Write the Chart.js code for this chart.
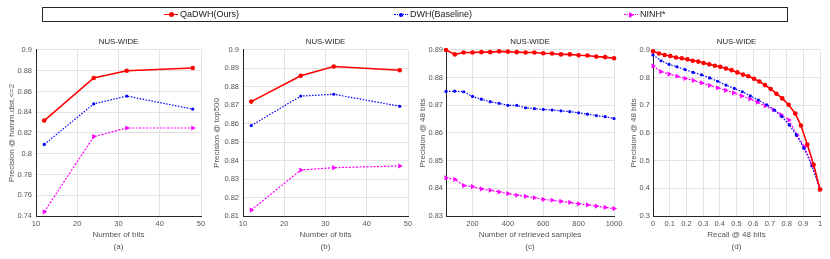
<!DOCTYPE html>
<html>
<head>
<meta charset="utf-8">
<script src="https://cdn.jsdelivr.net/npm/chart.js@4.4.1/dist/chart.umd.min.js"></script>
<style>
  body { margin: 0; background: #fff; font-family: "Liberation Sans", Arial, sans-serif; }
  #lienzo { position: relative; width: 830px; height: 259px; overflow: hidden; }
  #lienzo canvas { position: absolute; top: 0; }
  #leyenda { position: absolute; left: 42px; top: 7px; width: 746px; height: 15px; border: 1px solid #262626; box-sizing: border-box; }
  .item { position: absolute; top: 0; height: 13px; font-size: 9px; line-height: 13px; color: #1a1a1a; white-space: nowrap; }
  .linea { position: absolute; top: 6px; width: 14px; height: 0; }
  .marca { position: absolute; }
  .texto { position: absolute; left: 16px; top: 0; }
</style>
</head>
<body>
<div id="lienzo">
  <canvas id="graficoA" width="212" height="259" style="left:0px"></canvas>
  <canvas id="graficoB" width="212" height="259" style="left:205px"></canvas>
  <canvas id="graficoC" width="215" height="259" style="left:412px"></canvas>
  <canvas id="graficoD" width="212" height="259" style="left:618px"></canvas>
  <div id="leyenda">
    <div class="item" style="left:121px">
      <div class="linea" style="border-top:1.6px solid #ff0000"></div>
      <div class="marca" style="left:5px;top:4px;width:5px;height:5px;border-radius:50%;background:#ff0000"></div>
      <span class="texto">QaDWH(Ours)</span>
    </div>
    <div class="item" style="left:351px">
      <div class="linea" style="border-top:1.4px dotted #0000ff"></div>
      <div class="marca" style="left:5px;top:5px;width:3.5px;height:3.5px;border-radius:50%;background:#0000ff"></div>
      <span class="texto">DWH(Baseline)</span>
    </div>
    <div class="item" style="left:581px">
      <div class="linea" style="border-top:1.4px dotted #ff00ff"></div>
      <div class="marca" style="left:5px;top:3.5px;width:0;height:0;border-top:3px solid transparent;border-bottom:3px solid transparent;border-left:5px solid #ff00ff"></div>
      <span class="texto">NINH*</span>
    </div>
  </div>
</div>

<script>
/* DATOS */

const seriesNames = ["QaDWH(Ours)", "DWH(Baseline)", "NINH*"];
const panelLabels = ["(a)", "(b)", "(c)", "(d)"];

// (a) precision @ hamming dist <= 2
const bits = [12, 24, 32, 48];
const hammQaDWH = [0.832, 0.873, 0.880, 0.8826];
const hammDWH = [0.809, 0.848, 0.8556, 0.843];
const hammNINH = [0.744, 0.8165, 0.8248, 0.8248];

// (b) precision @ top500
const topQaDWH = [0.872, 0.886, 0.891, 0.889];
const topDWH = [0.859, 0.875, 0.876, 0.8695];
const topNINH = [0.8132, 0.8349, 0.8362, 0.8371];

// (c) precision vs number of retrieved samples
const retrieved = [50, 100, 150, 200, 250, 300, 350, 400, 450, 500, 550, 600, 650, 700, 750, 800, 850, 900, 950, 1000];
const retQaDWH = [0.8900, 0.8884, 0.8891, 0.8891, 0.8892, 0.8892, 0.8895, 0.8894, 0.8892, 0.8891, 0.8891, 0.8888, 0.8887, 0.8884, 0.8884, 0.8881, 0.8880, 0.8876, 0.8874, 0.8870];
const retDWH = [0.8750, 0.8751, 0.8749, 0.8732, 0.8722, 0.8713, 0.8707, 0.8700, 0.8700, 0.8691, 0.8688, 0.8685, 0.8683, 0.8680, 0.8677, 0.8673, 0.8668, 0.8663, 0.8659, 0.8652];
const retNINH = [0.8438, 0.8432, 0.8410, 0.8406, 0.8398, 0.8393, 0.8387, 0.8381, 0.8375, 0.8371, 0.8366, 0.8360, 0.8357, 0.8353, 0.8349, 0.8344, 0.8340, 0.8336, 0.8331, 0.8327];

// (d) precision-recall @ 48 bits
const recallQaDWH = [0, 0.036, 0.070, 0.104, 0.138, 0.172, 0.206, 0.238, 0.271, 0.303, 0.337, 0.371, 0.403, 0.437, 0.471, 0.505, 0.539, 0.571, 0.605, 0.637, 0.671, 0.705, 0.739, 0.774, 0.812, 0.852, 0.886, 0.924, 0.962, 1.0];
const precQaDWH = [0.895, 0.887, 0.882, 0.878, 0.873, 0.870, 0.866, 0.861, 0.858, 0.853, 0.848, 0.843, 0.839, 0.833, 0.827, 0.819, 0.811, 0.805, 0.796, 0.786, 0.773, 0.759, 0.742, 0.725, 0.702, 0.670, 0.627, 0.558, 0.485, 0.396];
const recallDWH = [0, 0.048, 0.096, 0.144, 0.192, 0.240, 0.291, 0.339, 0.387, 0.437, 0.487, 0.535, 0.583, 0.631, 0.681, 0.727, 0.772, 0.816, 0.858, 0.904, 0.952, 1.0];
const precDWH = [0.882, 0.861, 0.848, 0.839, 0.829, 0.819, 0.810, 0.799, 0.787, 0.773, 0.761, 0.749, 0.734, 0.719, 0.702, 0.683, 0.659, 0.629, 0.593, 0.545, 0.482, 0.398];
const recallNINH = [0, 0.046, 0.096, 0.144, 0.192, 0.241, 0.291, 0.339, 0.387, 0.435, 0.483, 0.531, 0.580, 0.625, 0.672, 0.722, 0.766, 0.814, 0.862, 0.905, 0.952, 1.0];
const precNINH = [0.842, 0.822, 0.813, 0.805, 0.797, 0.790, 0.781, 0.772, 0.763, 0.754, 0.745, 0.734, 0.723, 0.711, 0.698, 0.683, 0.666, 0.647, 0.593, 0.550, 0.485, 0.397];

// ticks
const bitsTicks = [10, 20, 30, 40, 50];
const hammTicks = [0.74, 0.76, 0.78, 0.8, 0.82, 0.84, 0.86, 0.88, 0.9];
const topTicks = [0.81, 0.82, 0.83, 0.84, 0.85, 0.86, 0.87, 0.88, 0.89, 0.9];
const retrievedTicks = [200, 400, 600, 800, 1000];
const retPrecTicks = [0.83, 0.84, 0.85, 0.86, 0.87, 0.88, 0.89];
const recallTicks = [0, 0.1, 0.2, 0.3, 0.4, 0.5, 0.6, 0.7, 0.8, 0.9, 1];
const prTicks = [0.3, 0.4, 0.5, 0.6, 0.7, 0.8, 0.9];

/* ESTILOS */
const fuente = '"Liberation Sans", Arial, sans-serif';

function toPoints(xs, ys) {
  return xs.map((x, i) => ({ x: x, y: ys[i] }));
}

function formatTick(v) {
  return parseFloat(Number(v).toFixed(3)).toString();
}

// one dataset per series, styled like the matlab markers
function makeDatasets(xsList, ysList) {
  return [
    {
      label: seriesNames[0], data: toPoints(xsList[0], ysList[0]),
      borderColor: "#ff0000", backgroundColor: "#ff0000", borderWidth: 1.6,
      pointStyle: "circle", pointRadius: 2.3, pointBorderWidth: 0, clip: false
    },
    {
      label: seriesNames[1], data: toPoints(xsList[1], ysList[1]),
      borderColor: "#0000ff", backgroundColor: "#0000ff", borderWidth: 1.2, borderDash: [1.5, 1.5],
      pointStyle: "circle", pointRadius: 1.6, pointBorderWidth: 0, clip: false
    },
    {
      label: seriesNames[2], data: toPoints(xsList[2], ysList[2]),
      borderColor: "#ff00ff", backgroundColor: "#ff00ff", borderWidth: 1.2, borderDash: [2, 1.5],
      pointStyle: "triangle", pointRotation: 90, pointRadius: 3, pointBorderWidth: 0, clip: false
    }
  ];
}

function makeChart(id, p) {
  const ctx = document.getElementById(id);
  return new Chart(ctx, {
    type: "scatter",
    data: { datasets: makeDatasets(p.xs, p.ys) },
    options: {
      responsive: false,
      animation: false,
      devicePixelRatio: 1,
      showLine: true,
      layout: { padding: { left: 0, right: p.padRight, top: 0, bottom: 6 } },
      plugins: {
        legend: { display: false },
        tooltip: { enabled: false },
        title: {
          display: true, text: "NUS-WIDE", fullSize: false, color: "#222",
          font: { family: fuente, size: 7.8, weight: "normal" },
          padding: { top: 37, bottom: 3.6 }
        }
      },
      scales: {
        x: {
          type: "linear", min: p.xMin, max: p.xMax,
          afterBuildTicks: s => { s.ticks = p.xTicks.map(v => ({ value: v })); },
          afterFit: s => { s.height = 37; s.paddingLeft = 0; s.paddingRight = 0; },
          ticks: { color: "#555", font: { family: fuente, size: 7.5 }, padding: 3.5, maxRotation: 0, autoSkip: false, callback: formatTick },
          grid: { color: "#e3e3e3", drawTicks: false },
          border: { color: "#262626", width: 1 },
          title: { display: true, text: [p.xTitle, p.label], color: "#555", font: { family: fuente, size: 8, lineHeight: 1.5 }, padding: 0 }
        },
        y: {
          type: "linear", min: p.yMin, max: p.yMax,
          afterBuildTicks: s => { s.ticks = p.yTicks.map(v => ({ value: v })); },
          afterFit: s => { s.width = p.yWidth; s.paddingTop = 0; s.paddingBottom = 0; },
          ticks: { color: "#555", font: { family: fuente, size: 7.5 }, padding: p.tickPad, autoSkip: false, callback: formatTick },
          grid: { color: "#e3e3e3", drawTicks: false },
          border: { color: "#262626", width: 1 },
          title: { display: true, text: p.yTitle, color: "#555", font: { family: fuente, size: 8, lineHeight: 1.2 }, padding: { top: p.yTitlePad, bottom: 0 } }
        }
      }
    }
  });
}

/* GRAFICOS */
makeChart("graficoA", {
  xs: [bits, bits, bits], ys: [hammQaDWH, hammDWH, hammNINH],
  xMin: 10, xMax: 50, xTicks: bitsTicks, yMin: 0.74, yMax: 0.9, yTicks: hammTicks,
  xTitle: "Number of bits", yTitle: "Precision @ hamm.dist.<=2", label: panelLabels[0],
  yWidth: 36, padRight: 11, tickPad: 4, yTitlePad: 7
});

makeChart("graficoB", {
  xs: [bits, bits, bits], ys: [topQaDWH, topDWH, topNINH],
  xMin: 10, xMax: 50, xTicks: bitsTicks, yMin: 0.81, yMax: 0.9, yTicks: topTicks,
  xTitle: "Number of bits", yTitle: "Precision @ top500", label: panelLabels[1],
  yWidth: 38, padRight: 9, tickPad: 4, yTitlePad: 7
});

makeChart("graficoC", {
  xs: [retrieved, retrieved, retrieved], ys: [retQaDWH, retDWH, retNINH],
  xMin: 50, xMax: 1000, xTicks: retrievedTicks, yMin: 0.83, yMax: 0.89, yTicks: retPrecTicks,
  xTitle: "Number of retrieved samples", yTitle: "Precision @ 48 bits", label: panelLabels[2],
  yWidth: 34, padRight: 13, tickPad: 3, yTitlePad: 6
});

makeChart("graficoD", {
  xs: [recallQaDWH, recallDWH, recallNINH], ys: [precQaDWH, precDWH, precNINH],
  xMin: 0, xMax: 1, xTicks: recallTicks, yMin: 0.3, yMax: 0.9, yTicks: prTicks,
  xTitle: "Recall @ 48 bits", yTitle: "Precision @ 48 bits", label: panelLabels[3],
  yWidth: 35, padRight: 10, tickPad: 3, yTitlePad: 11
});
</script>
</body>
</html>
